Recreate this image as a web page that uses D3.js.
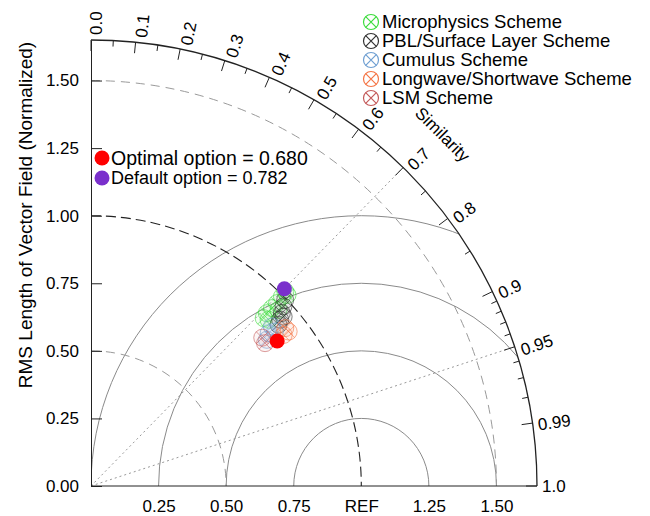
<!DOCTYPE html>
<html>
<head>
<meta charset="utf-8">
<script src="https://cdn.jsdelivr.net/npm/d3@7"></script>
<style>
  body { margin: 0; background: #fff; }
  text { font-family: "Liberation Sans", Arial, sans-serif; fill: #000; }
</style>
</head>
<body>
<svg id="svg" width="650" height="516"></svg>
<script>
const svg = d3.select("#svg");

// axis values
var stdTicks = [0, 0.25, 0.5, 0.75, 1.0, 1.25, 1.5];
var stdLabels = ["0.00", "0.25", "0.50", "0.75", "1.00", "1.25", "1.50"];
var xTicks = [0.25, 0.5, 0.75, 1.0, 1.25, 1.5];
var xLabels = ["0.25", "0.50", "0.75", "REF", "1.25", "1.50"];
var corrMajor = [0, 0.1, 0.2, 0.3, 0.4, 0.5, 0.6, 0.7, 0.8, 0.9, 0.95, 0.99, 1.0];
var corrLabels = ["0.0", "0.1", "0.2", "0.3", "0.4", "0.5", "0.6", "0.7", "0.8", "0.9", "0.95", "0.99", "1.0"];
var corrMinor = [0.05, 0.15, 0.25, 0.35, 0.45, 0.55, 0.65, 0.75, 0.85, 0.91, 0.92, 0.93, 0.94, 0.96, 0.97, 0.98];
var stdArcs = [0.5, 1.0, 1.5];
var rmsArcs = [0.25, 0.5, 0.75, 1.0];
var refLines = [0.7, 0.95];
var maxStd = 1.65;

// [RMS length, similarity] for each run
var microphysics = [[1.017, 0.707], [1.014, 0.717], [0.995, 0.710], [0.965, 0.713], [0.939, 0.713],
                    [0.912, 0.713], [0.891, 0.717], [0.900, 0.730], [0.952, 0.729]];
var pblSurface = [[0.995, 0.722], [0.974, 0.731], [0.953, 0.741], [0.932, 0.751], [0.915, 0.758], [0.949, 0.751]];
var cumulus = [[0.892, 0.750], [0.867, 0.758], [0.846, 0.769], [0.889, 0.766]];
var longShort = [[0.926, 0.776], [0.928, 0.788], [0.906, 0.787]];
var lsm = [[0.833, 0.773], [0.838, 0.756]];

var schemeNames = ["Microphysics Scheme", "PBL/Surface Layer Scheme", "Cumulus Scheme",
                   "Longwave/Shortwave Scheme", "LSM Scheme"];
var schemeColors = ["#3ddc3d", "#333333", "#6f9fd2", "#f57545", "#c45a5a"];
var schemeData = [microphysics, pblSurface, cumulus, longShort, lsm];

var optimal = [0.873, 0.789];
var defaultRun = [1.022, 0.700];
var optionLabels = ["Optimal option = 0.680", "Default option = 0.782"];
var optionColors = ["#ff0000", "#7a30cc"];

var origin = {x: 91, y: 486};
var R = 446;

var r = d3.scaleLinear().domain([0, maxStd]).range([0, R]);
var yScale = d3.scaleLinear().domain([0, maxStd]).range([R, 0]);

var g = svg.append("g").attr("transform", `translate(${origin.x},${origin.y})`);

var polar = (s, c) => [r(s) * c, -r(s) * Math.sqrt(1 - c * c)];

var quarter = rad => {
  var p = d3.path();
  p.moveTo(0, -rad);
  p.arc(0, 0, rad, -Math.PI / 2, 0);
  return p.toString();
};

// clip for the RMS circles
var clipP = d3.path();
clipP.moveTo(0, 0);
clipP.lineTo(0, -R);
clipP.arc(0, 0, R, -Math.PI / 2, 0);
clipP.closePath();
svg.append("defs").append("clipPath").attr("id", "quad")
  .append("path").attr("d", clipP.toString());

var clipped = g.append("g").attr("clip-path", "url(#quad)");

clipped.selectAll(".rms").data(rmsArcs)
  .enter().append("circle")
  .attr("class", "rms")
  .attr("cx", r(1)).attr("cy", 0)
  .attr("r", d => r(d))
  .attr("fill", "none")
  .attr("stroke", "#8a8a8a")
  .attr("stroke-width", 1);

// standard deviation arcs
g.selectAll(".std").data(stdArcs)
  .enter().append("path")
  .attr("class", "std")
  .attr("d", d => quarter(r(d)))
  .attr("fill", "none")
  .attr("stroke", d => d === 1 ? "#222" : "#9a9a9a")
  .attr("stroke-width", d => d === 1 ? 1.1 : 1)
  .attr("stroke-dasharray", d => d === 1 ? "10,5" : "9,6");

// reference similarity lines
g.selectAll(".ref").data(refLines)
  .enter().append("line")
  .attr("class", "ref")
  .attr("x1", 0).attr("y1", 0)
  .attr("x2", d => polar(maxStd, d)[0])
  .attr("y2", d => polar(maxStd, d)[1])
  .attr("stroke", "#999")
  .attr("stroke-width", 1)
  .attr("stroke-dasharray", "2,3");

// outer arc
g.append("path").attr("d", quarter(R))
  .attr("fill", "none").attr("stroke", "#222").attr("stroke-width", 1.3);

// similarity ticks
g.selectAll(".cmaj").data(corrMajor)
  .enter().append("line")
  .attr("class", "cmaj")
  .attr("x1", d => polar(maxStd, d)[0] * (R - 11) / R)
  .attr("y1", d => polar(maxStd, d)[1] * (R - 11) / R)
  .attr("x2", d => polar(maxStd, d)[0])
  .attr("y2", d => polar(maxStd, d)[1])
  .attr("stroke", "#222");

g.selectAll(".cmin").data(corrMinor)
  .enter().append("line")
  .attr("class", "cmin")
  .attr("x1", d => polar(maxStd, d)[0] * (R - 6) / R)
  .attr("y1", d => polar(maxStd, d)[1] * (R - 6) / R)
  .attr("x2", d => polar(maxStd, d)[0])
  .attr("y2", d => polar(maxStd, d)[1])
  .attr("stroke", "#222");

g.selectAll(".clab").data(corrMajor)
  .enter().append("text")
  .attr("class", "clab")
  .attr("transform", d => {
    var th = Math.acos(d);
    var p = [(R + 5) * Math.cos(th), -(R + 5) * Math.sin(th)];
    return `translate(${p[0]},${p[1]}) rotate(${-th * 180 / Math.PI})`;
  })
  .attr("dy", d => {
    var deg = Math.acos(d) * 180 / Math.PI;
    return 6 + 5 * Math.min(1, deg / 18);
  })
  .attr("font-size", 17)
  .text((d, i) => corrLabels[i]);

g.append("text")
  .attr("transform", `translate(${polar(1.84, 0.7071)[0]},${polar(1.84, 0.7071)[1]}) rotate(45)`)
  .attr("text-anchor", "middle")
  .attr("dy", "0.35em")
  .attr("font-size", 17)
  .text("Similarity");

// y axis
var yAxis = d3.axisLeft(yScale)
  .tickValues(stdTicks)
  .tickFormat((d, i) => stdLabels[i])
  .tickSizeInner(-11)
  .tickSizeOuter(0)
  .tickPadding(12);

var yAxisG = g.append("g").attr("transform", `translate(0,${-R})`).call(yAxis);
yAxisG.selectAll("text").attr("font-size", 17).style("font-family", null);
yAxisG.selectAll("line, path").attr("stroke", "#222");

var xAxis = d3.axisBottom(r)
  .tickValues(xTicks)
  .tickFormat((d, i) => xLabels[i])
  .tickSize(0)
  .tickPadding(14);

var xAxisG = g.append("g").call(xAxis);
xAxisG.select(".domain").remove();
xAxisG.selectAll("text").attr("font-size", 17).style("font-family", null);

g.append("line")
  .attr("x1", 0).attr("y1", 0).attr("x2", R).attr("y2", 0)
  .attr("stroke", "#222");

svg.append("text")
  .attr("transform", "translate(25,215) rotate(-90)")
  .attr("text-anchor", "middle")
  .attr("dy", "0.35em")
  .attr("font-size", 19)
  .text("RMS Length of Vector Field (Normalized)");

// scheme markers
var marker = (sel, color, rad) => {
  sel.append("circle").attr("r", rad)
    .attr("fill", color).attr("fill-opacity", 0.06)
    .attr("stroke", color).attr("stroke-opacity", 0.6);
  var k = rad * 0.707;
  sel.append("path").attr("d", `M${-k},${-k}L${k},${k}M${-k},${k}L${k},${-k}`)
    .attr("stroke", color).attr("stroke-opacity", 0.6);
};

schemeData.forEach((data, si) => {
  g.selectAll(".pt" + si).data(data)
    .enter().append("g")
    .attr("class", "pt" + si)
    .attr("transform", d => `translate(${polar(d[0], d[1])[0]},${polar(d[0], d[1])[1]})`)
    .each(function () { marker(d3.select(this), schemeColors[si], 8.5); });
});

[optimal, defaultRun].forEach((d, i) => {
  g.append("circle")
    .attr("cx", polar(d[0], d[1])[0])
    .attr("cy", polar(d[0], d[1])[1])
    .attr("r", 7.5)
    .attr("fill", optionColors[i]);
});

// scheme legend
var leg = svg.append("g").selectAll("g").data(schemeNames)
  .enter().append("g")
  .attr("transform", (d, i) => `translate(371,${22 + i * 19})`);

leg.each(function (d, i) {
  var s = d3.select(this);
  s.append("circle").attr("r", 7.5).attr("fill", "none")
    .attr("stroke", schemeColors[i]).attr("stroke-width", 1.2);
  var k = 7.5 * 0.707;
  s.append("path").attr("d", `M${-k},${-k}L${k},${k}M${-k},${k}L${k},${-k}`)
    .attr("stroke", schemeColors[i]).attr("stroke-width", 1.2);
});
leg.append("text")
  .attr("x", 11).attr("dy", "0.35em")
  .attr("font-size", 18.5)
  .text(d => d);

// option legend
var optSizes = [19.5, 18];
optionLabels.forEach((t, i) => {
  svg.append("circle").attr("cx", 102).attr("cy", 158 + i * 20).attr("r", 7.5)
    .attr("fill", optionColors[i]);
  svg.append("text").attr("x", 111).attr("y", 158 + i * 20).attr("dy", "0.35em")
    .attr("font-size", optSizes[i]).text(t);
});
</script>
</body>
</html>
